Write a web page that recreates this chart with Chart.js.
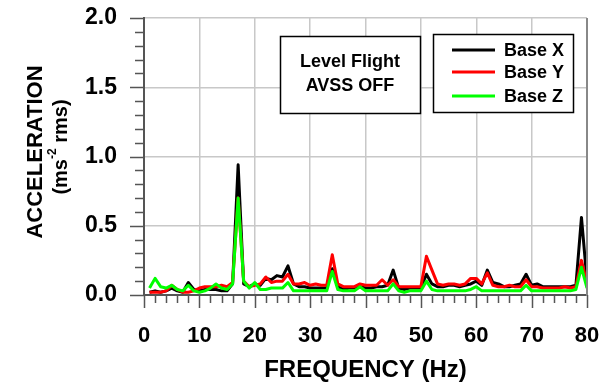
<!DOCTYPE html>
<html>
<head>
<meta charset="utf-8">
<script src="https://cdn.jsdelivr.net/npm/chart.js@4/dist/chart.umd.min.js"></script>
<style>
  html, body { margin: 0; padding: 0; background: #fff; }
  #wrap { width: 604px; height: 390px; position: relative; }
</style>
</head>
<body>
<div id="wrap"><canvas id="c"></canvas></div>
<script>
/* Level flight, AVSS off – base acceleration spectra */

const freqHz = [];
for (let f = 1; f <= 80; f++) freqHz.push(f);

const baseX = [
  0.02, 0.03, 0.02, 0.03, 0.05, 0.03, 0.02, 0.09, 0.04, 0.03,
  0.04, 0.04, 0.04, 0.03, 0.03, 0.08, 0.94, 0.08, 0.06, 0.08,
  0.07, 0.12, 0.11, 0.14, 0.13, 0.21, 0.08, 0.06, 0.06, 0.05,
  0.05, 0.05, 0.05, 0.19, 0.06, 0.04, 0.05, 0.05, 0.06, 0.05,
  0.05, 0.06, 0.06, 0.07, 0.18, 0.05, 0.04, 0.05, 0.05, 0.05,
  0.15, 0.08, 0.06, 0.06, 0.07, 0.07, 0.06, 0.07, 0.08, 0.10,
  0.07, 0.18, 0.09, 0.08, 0.06, 0.06, 0.07, 0.08, 0.15, 0.07,
  0.08, 0.06, 0.06, 0.06, 0.06, 0.06, 0.06, 0.07, 0.56, 0.10,
];
const baseY = [
  0.02, 0.02, 0.02, 0.03, 0.07, 0.04, 0.02, 0.02, 0.03, 0.05,
  0.06, 0.06, 0.06, 0.07, 0.06, 0.09, 0.70, 0.10, 0.06, 0.07,
  0.08, 0.13, 0.09, 0.10, 0.10, 0.15, 0.08, 0.08, 0.09, 0.07,
  0.08, 0.07, 0.07, 0.29, 0.08, 0.06, 0.06, 0.06, 0.08, 0.07,
  0.07, 0.07, 0.11, 0.07, 0.11, 0.06, 0.06, 0.06, 0.06, 0.06,
  0.28, 0.18, 0.08, 0.07, 0.08, 0.08, 0.07, 0.08, 0.12, 0.12,
  0.08, 0.16, 0.07, 0.06, 0.06, 0.07, 0.06, 0.06, 0.11, 0.06,
  0.06, 0.05, 0.05, 0.05, 0.05, 0.06, 0.05, 0.06, 0.25, 0.08,
];
const baseZ = [
  0.05, 0.12, 0.06, 0.05, 0.07, 0.04, 0.03, 0.07, 0.03, 0.02,
  0.03, 0.05, 0.08, 0.05, 0.04, 0.08, 0.70, 0.10, 0.05, 0.09,
  0.04, 0.04, 0.05, 0.05, 0.05, 0.09, 0.03, 0.03, 0.03, 0.03,
  0.03, 0.03, 0.03, 0.17, 0.04, 0.03, 0.03, 0.03, 0.06, 0.03,
  0.03, 0.03, 0.03, 0.03, 0.08, 0.03, 0.02, 0.03, 0.03, 0.03,
  0.10, 0.04, 0.03, 0.03, 0.03, 0.03, 0.03, 0.03, 0.04, 0.06,
  0.03, 0.03, 0.03, 0.03, 0.03, 0.03, 0.03, 0.03, 0.07, 0.03,
  0.03, 0.03, 0.03, 0.03, 0.03, 0.03, 0.03, 0.04, 0.20, 0.05,
];

const seriesNames = ['Base X', 'Base Y', 'Base Z'];
const seriesColors = ['#000000', '#ff0000', '#00ff00'];
const noteLines = ['Level Flight', 'AVSS OFF'];

const FONT = "'Liberation Sans', Arial, Helvetica, sans-serif";
const AXIS_COL = '#555555';
const GRID_COL = '#c8c8c8';

const pts = vals => vals.map((v, i) => ({ x: freqHz[i], y: v }));

/* layout padding is additive with label overflow, so drop the overflow */
function noOverflow(s) {
  s.paddingTop = 0; s.paddingBottom = 0;
  s.paddingLeft = 0; s.paddingRight = 0;
}

/* minor/major tick marks, frame, titles, note box and legend */
const decorations = {
  id: 'decorations',
  afterDraw(chart) {
    const { ctx, chartArea: a, scales } = chart;
    const xs = scales.x, ys = scales.y;
    ctx.save();

    // right frame line
    ctx.strokeStyle = '#888888';
    ctx.lineWidth = 2;
    ctx.beginPath();
    ctx.moveTo(a.right, a.top); ctx.lineTo(a.right, a.bottom + 1);
    ctx.stroke();

    // tick marks
    ctx.strokeStyle = AXIS_COL;
    ctx.lineWidth = 1.5;
    ctx.beginPath();
    for (let f = 0; f <= 80; f += 2) {
      const px = Math.round(xs.getPixelForValue(f)) + 0.5;
      const len = f % 10 === 0 ? 13 : 8;
      ctx.moveTo(px, a.bottom); ctx.lineTo(px, a.bottom + len);
    }
    for (let k = 0; k <= 20; k++) {
      const py = Math.round(ys.getPixelForValue(k / 10)) + 0.5;
      const len = k % 5 === 0 ? 14 : 9;
      ctx.moveTo(a.left, py); ctx.lineTo(a.left - len, py);
    }
    ctx.stroke();

    // x title
    ctx.fillStyle = '#000';
    ctx.textAlign = 'center';
    ctx.textBaseline = 'middle';
    ctx.font = `bold 24px ${FONT}`;
    ctx.fillText('FREQUENCY (Hz)', (a.left + a.right) / 2, 370);

    // y title (two lines, rotated, with superscript)
    ctx.save();
    ctx.translate(36, 152);
    ctx.rotate(-Math.PI / 2);
    ctx.font = `bold 22px ${FONT}`;
    ctx.fillText('ACCELERATION', 0, 0);
    ctx.restore();

    ctx.save();
    ctx.translate(61, 147);
    ctx.rotate(-Math.PI / 2);
    ctx.textAlign = 'left';
    const big = `bold 20px ${FONT}`, sup = `bold 12px ${FONT}`;
    ctx.font = big; const w1 = ctx.measureText('(ms').width;
    ctx.font = sup; const w2 = ctx.measureText('-2').width;
    ctx.font = big; const w3 = ctx.measureText(' rms)').width;
    let cx = -(w1 + w2 + w3) / 2;
    ctx.font = big; ctx.fillText('(ms', cx, 0); cx += w1;
    ctx.font = sup; ctx.fillText('-2', cx, -8); cx += w2;
    ctx.font = big; ctx.fillText(' rms)', cx, 0);
    ctx.restore();

    // note box
    ctx.fillStyle = '#fff';
    ctx.strokeStyle = '#000';
    ctx.lineWidth = 1.5;
    ctx.fillRect(280, 36, 140, 77);
    ctx.strokeRect(280.5, 36.5, 140, 77);
    ctx.fillStyle = '#000';
    ctx.textAlign = 'center';
    ctx.font = `bold 18px ${FONT}`;
    ctx.fillText(noteLines[0], 350, 62);
    ctx.fillText(noteLines[1], 350, 86);

    // legend box
    ctx.fillStyle = '#fff';
    ctx.fillRect(433, 34, 140, 78);
    ctx.strokeRect(433.5, 34.5, 140, 78);
    ctx.textAlign = 'left';
    const rows = [50, 72, 96];
    chart.data.datasets.forEach((ds, i) => {
      ctx.strokeStyle = ds.borderColor;
      ctx.lineWidth = 3;
      ctx.beginPath();
      ctx.moveTo(452, rows[i]); ctx.lineTo(495, rows[i]);
      ctx.stroke();
      ctx.fillStyle = '#000';
      ctx.fillText(ds.label, 504, rows[i] + 1);
    });

    ctx.restore();
  },
};

new Chart(document.getElementById('c'), {
  type: 'line',
  data: {
    datasets: [
      { label: seriesNames[0], data: pts(baseX), borderColor: seriesColors[0], order: 3 },
      { label: seriesNames[1], data: pts(baseY), borderColor: seriesColors[1], order: 2 },
      { label: seriesNames[2], data: pts(baseZ), borderColor: seriesColors[2], order: 1 },
    ],
  },
  options: {
    responsive: true,
    maintainAspectRatio: false,
    animation: false,
    events: [],
    layout: { padding: { top: 18, right: 17, left: 0, bottom: 0 } },
    elements: {
      line: { borderWidth: 3, tension: 0, fill: false, borderJoinStyle: 'round' },
      point: { radius: 0 },
    },
    plugins: { legend: { display: false }, tooltip: { enabled: false } },
    scales: {
      x: {
        type: 'linear',
        min: 0, max: 80,
        afterFit: s => { s.height = 95; noOverflow(s); },
        ticks: {
          stepSize: 10, padding: 28, maxRotation: 0,
          color: '#000', font: { family: FONT, size: 22, weight: 'bold' },
        },
        grid: { color: GRID_COL, lineWidth: 1.5, drawTicks: false },
        border: { color: AXIS_COL, width: 2 },
      },
      y: {
        min: 0, max: 2,
        afterFit: s => { s.width = 144; noOverflow(s); },
        ticks: {
          stepSize: 0.5, padding: 27,
          callback: v => v.toFixed(1),
          color: '#000', font: { family: FONT, size: 23, weight: 'bold' },
        },
        grid: { color: GRID_COL, lineWidth: 1.5, drawTicks: false },
        border: { color: AXIS_COL, width: 2 },
      },
    },
  },
  plugins: [decorations],
});
</script>
</body>
</html>
